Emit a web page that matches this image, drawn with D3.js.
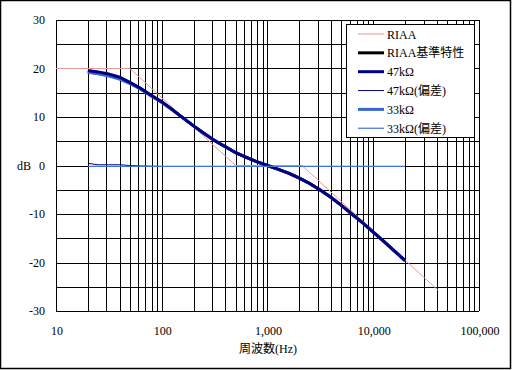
<!DOCTYPE html>
<html>
<head>
<meta charset="utf-8">
<script src="https://cdn.jsdelivr.net/npm/d3@7"></script>
<style>
  body { margin: 0; background: #fff; }
  text { font-family: "Liberation Serif", "Noto Sans CJK JP", serif; font-size: 12px; fill: #000; }
</style>
</head>
<body>
<div id="chart"></div>
<script>
// frequencies (Hz)
var freqs = [20, 25, 31.5, 40, 50, 63, 80, 100, 125, 160, 200, 250, 315, 400, 500, 630, 800,
  1000, 1250, 1600, 2000, 2500, 3150, 4000, 5000, 6300, 8000, 10000, 12500, 16000, 20000]
// RIAA reference characteristic (dB)
var riaaRef = [19.27, 19.03, 18.59, 17.93, 17.04, 15.86, 14.38, 13.09, 11.56, 9.77, 8.17, 6.64, 5.17, 3.85, 2.64, 1.66, 0.75,
  0, -0.75, -1.62, -2.61, -3.70, -5.04, -6.60, -8.23, -10.05, -11.89, -13.73, -15.61, -17.70, -19.62]
// measured 47kΩ
var r47 = [19.6, 19.3, 18.85, 18.2, 17.15, 15.93, 14.42, 13.12, 11.58, 9.78, 8.18, 6.65, 5.18, 3.86, 2.65, 1.67, 0.76,
  0, -0.74, -1.61, -2.6, -3.69, -5.03, -6.59, -8.22, -10.04, -11.88, -13.72, -15.6, -17.69, -19.61]
// 47kΩ deviation
var d47 = [0.45, 0.15, 0.15, 0.15, 0.0, -0.1, -0.15, -0.2, -0.2, -0.2, -0.2, -0.2, -0.2, -0.2, -0.2, -0.2, -0.2,
  -0.2, -0.2, -0.2, -0.2, -0.2, -0.2, -0.2, -0.2, -0.2, -0.2, -0.2, -0.2, -0.2, -0.2]
// measured 33kΩ
var r33 = [19.2, 18.9, 18.45, 17.8, 16.9, 15.72, 14.26, 12.98, 11.5, 9.74, 8.16, 6.63, 5.16, 3.85, 2.64, 1.66, 0.75,
  0, -0.75, -1.62, -2.61, -3.70, -5.04, -6.60, -8.23, -10.05, -11.89, -13.73, -15.61, -17.70, -19.62]
// 33kΩ deviation
var d33 = [-0.2, -0.2, -0.2, -0.2, -0.2, -0.2, -0.2, -0.2, -0.2, -0.2, -0.2, -0.2, -0.2, -0.2, -0.2, -0.2, -0.2,
  -0.2, -0.2, -0.2, -0.2, -0.2, -0.2, -0.2, -0.2, -0.2, -0.2, -0.2, -0.2, -0.2, -0.2]
// RIAA asymptote (pink)
var asymFreq = [10, 50, 500, 2122, 40900]
var asymDb = [20, 20, 0, 0, -25.7]

var xTicks = [10, 100, 1000, 10000, 100000]
var yTicks = [-30, -20, -10, 0, 10, 20, 30]
var legendNames = ["RIAA", "RIAA基準特性", "47kΩ", "47kΩ(偏差)", "33kΩ", "33kΩ(偏差)"]

var W = 512, H = 370
var svg = d3.select("#chart").append("svg").attr("width", W).attr("height", H)

svg.append("rect").attr("x", 0.5).attr("y", 0.5).attr("width", W - 2).attr("height", H - 2)
  .attr("fill", "#fff").attr("stroke", "#000").attr("stroke-width", 1.5)

var x = d3.scaleLog().domain([10, 100000]).range([56, 479])
var y = d3.scaleLinear().domain([-30, 30]).range([311, 20])

// grid
var g = svg.append("g").attr("shape-rendering", "crispEdges")
var minorX = []
for (var dec = 10; dec < 100000; dec *= 10)
  for (var m = 1; m < 10; m++) minorX.push(dec * m)
minorX.push(100000)
g.selectAll(".vx").data(minorX).enter().append("line")
  .attr("x1", d => Math.round(x(d)) + 0.5).attr("x2", d => Math.round(x(d)) + 0.5)
  .attr("y1", y(30)).attr("y2", y(-30)).attr("stroke", "#000").attr("stroke-width", 1)
g.selectAll(".hy").data(d3.range(-30, 31, 5)).enter().append("line")
  .attr("y1", d => Math.round(y(d)) + 0.5).attr("y2", d => Math.round(y(d)) + 0.5)
  .attr("x1", x(10)).attr("x2", x(100000)).attr("stroke", "#000").attr("stroke-width", 1)

// axes labels
svg.selectAll(".yl").data(yTicks).enter().append("text")
  .attr("x", 45).attr("y", d => y(d) + 4).attr("text-anchor", "end").text(d => d)
svg.selectAll(".xl").data(xTicks).enter().append("text")
  .attr("x", d => x(d) + 1).attr("y", 335).attr("text-anchor", "middle").text(d3.format(","))
svg.append("text").attr("x", 24).attr("y", y(0) + 4).attr("text-anchor", "middle").text("dB")
svg.append("text").attr("x", 268).attr("y", 353).attr("text-anchor", "middle").text("周波数(Hz)")

var line = d3.line().x(d => x(d[0])).y(d => y(d[1]))
function draw(fx, vals, color, w) {
  svg.append("path").datum(fx.map((f, i) => [f, vals[i]]))
    .attr("d", line).attr("fill", "none").attr("stroke", color).attr("stroke-width", w)
}
var colors = ["#E89898", "#000000", "#000080", "#000080", "#3A66D6", "#4472DC"]
var widths = [1, 3, 3, 1, 3, 1.2]
draw(asymFreq, asymDb, colors[0], widths[0])
draw(freqs, riaaRef, colors[1], widths[1])
draw(freqs, r33, colors[4], widths[4])
draw(freqs, r47, colors[2], widths[2])
draw(freqs, d47, colors[3], widths[3])
draw(freqs, d33, colors[5], widths[5])

// legend
var lg = svg.append("g")
lg.append("rect").attr("x", 346.5).attr("y", 24.5).attr("width", 128).attr("height", 113)
  .attr("fill", "#fff").attr("stroke", "#000").attr("stroke-width", 1)
legendNames.forEach(function(n, i) {
  var yy = 34 + i * 18.85
  lg.append("line").attr("x1", 358).attr("x2", 384).attr("y1", yy).attr("y2", yy)
    .attr("stroke", colors[i]).attr("stroke-width", widths[i])
  lg.append("text").attr("x", 387).attr("y", yy + 4.5).text(n)
})
</script>
</body>
</html>
